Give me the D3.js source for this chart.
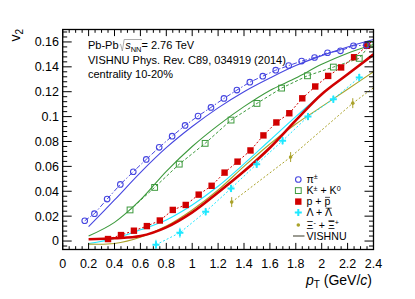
<!DOCTYPE html>
<html>
<head>
<meta charset="utf-8">
<script src="https://cdn.jsdelivr.net/npm/d3@7"></script>
<style>
body{margin:0;background:#fff}
text{font-family:"Liberation Sans",Arial,sans-serif;fill:#000;white-space:pre}
</style>
</head>
<body>
<div id="chart"></div>
<script>
// measured points (pT, v2)
var piPt=[0.17,0.245,0.343,0.445,0.545,0.645,0.745,0.845,0.945,1.045,1.145,1.245,1.345,1.445,1.545,1.645,1.745,1.845,1.945,2.045,2.145,2.245,2.345];
var piV2=[0.0163,0.0220,0.0337,0.0455,0.0557,0.0656,0.0753,0.0843,0.0929,0.1004,0.1074,0.1146,0.1213,0.1277,0.1325,0.1373,0.1410,0.1446,0.1475,0.1513,0.1529,0.1569,0.1574];
var kPt=[0.52,0.71,0.9,1.1,1.3,1.5,1.69,1.89,2.09,2.29,2.375];
var kV2=[0.0250,0.0431,0.0618,0.0785,0.0972,0.1106,0.1229,0.1328,0.1398,0.1468,0.1580];
var pPt=[0.35,0.45,0.55,0.65,0.75,0.85,0.95,1.05,1.15,1.25,1.35,1.45,1.55,1.65,1.75,1.85,1.95,2.05,2.15,2.25,2.35,2.45];
var pV2=[0.0016,0.0048,0.0083,0.0120,0.0165,0.0250,0.0290,0.0373,0.0444,0.0550,0.0638,0.0728,0.0849,0.0953,0.1027,0.1147,0.1242,0.1327,0.1395,0.1477,0.1569,0.1670];
var lamPt=[0.72,0.905,1.104,1.3,1.498,1.698,1.894,2.09,2.29];
var lamV2=[-0.0030,0.0067,0.0236,0.0423,0.0618,0.0806,0.1000,0.1140,0.1315];
var lamErr=[0.004,0.004,0.003,0.003,0.003,0.003,0.003,0.003,0.003];
var xiPt=[1.305,1.76,2.24,2.72];
var xiV2=[0.0313,0.0675,0.1108,0.148];
var xiErr=[0.004,0.004,0.004,0.004];

// VISHNU curves
var modelPt=[0.2,0.4,0.6,0.8,1.0,1.2,1.4,1.6,1.8,2.0,2.2,2.4];
var piModel=[0.0115,0.033,0.055,0.075,0.092,0.107,0.120,0.131,0.141,0.149,0.156,0.162];
var kModel=[0.004,0.015,0.033,0.056,0.076,0.093,0.108,0.121,0.131,0.142,0.151,0.158];
var pModel=[0.0014,0.0022,0.004,0.011,0.023,0.039,0.056,0.075,0.097,0.118,0.134,0.150];
var lamModel=[-0.002,0.002,0.009,0.017,0.029,0.044,0.062,0.081,0.100,0.118,0.134,0.149];
var xiModel=[-0.0025,-0.002,0.003,0.012,0.025,0.041,0.060,0.078,0.094,0.108,0.122,0.136];

var legendNames=["pi","k","p","lam","xi","model"];

var W=415,H=299;
var x=d3.scaleLinear().domain([0,2.4]).range([62.7,373.5]);
var y=d3.scaleLinear().domain([-0.0068,0.17]).range([249.5,29.5]);

var col={pi:"#4646e0",k:"#3d9a3d",p:"#d10000",lam:"#1ee8ff",xi:"#aaa22a"};

var svg=d3.select("#chart").append("svg").attr("width",W).attr("height",H);

svg.append("clipPath").attr("id","clip").append("rect")
    .attr("x",x(0)).attr("y",y(0.17)).attr("width",x(2.4)-x(0)).attr("height",y(-0.0068)-y(0.17));

var plot=svg.append("g").attr("clip-path","url(#clip)");

function zip(a,b){return a.map((v,i)=>[v,b[i]]);}

var smooth=d3.line().x(d=>x(d[0])).y(d=>y(d[1])).curve(d3.curveCatmullRom);
var straight=d3.line().x(d=>x(d[0])).y(d=>y(d[1]));

// model curves
[["k",kModel,1.1],["pi",piModel,1.1],["lam",lamModel,1.1],["xi",xiModel,1.1],["p",pModel,2.6]].forEach(m=>{
    plot.append("path").attr("d",smooth(zip(modelPt,m[1])))
        .attr("fill","none").attr("stroke",col[m[0]]).attr("stroke-width",m[2]);
});

// data connecting lines
[["pi",piPt,piV2,"5,2,1.5,2"],["k",kPt,kV2,"3,2"],["p",pPt,pV2,"2,2"],["lam",lamPt,lamV2,"2,2"],["xi",xiPt,xiV2,"2,2"]].forEach(s=>{
    plot.append("path").attr("d",straight(zip(s[1],s[2])))
        .attr("fill","none").attr("stroke",col[s[0]]).attr("stroke-width",1).attr("stroke-dasharray",s[3]);
});

// error bars
function errs(pts,vals,e,c){
    plot.selectAll(null).data(zip(pts,vals).map((d,i)=>[d[0],d[1],e[i]])).enter().append("line")
        .attr("x1",d=>x(d[0])).attr("x2",d=>x(d[0]))
        .attr("y1",d=>y(d[1]-d[2])).attr("y2",d=>y(d[1]+d[2]))
        .attr("stroke",c).attr("stroke-width",1);
}
errs(lamPt,lamV2,lamErr,col.lam);
errs(xiPt,xiV2,xiErr,col.xi);

function marker(g,type,cx,cy){
    if(type=="pi") g.append("circle").attr("cx",cx).attr("cy",cy).attr("r",2.8)
        .attr("fill","none").attr("stroke",col.pi).attr("stroke-width",1.1);
    if(type=="k") g.append("rect").attr("x",cx-2.9).attr("y",cy-2.9).attr("width",5.8).attr("height",5.8)
        .attr("fill","none").attr("stroke",col.k).attr("stroke-width",1);
    if(type=="p") g.append("rect").attr("x",cx-3.2).attr("y",cy-3.2).attr("width",6.4).attr("height",6.4)
        .attr("fill",col.p);
    if(type=="lam") g.append("path")
        .attr("d","M"+(cx-1)+","+(cy-3.5)+"h2v2.5h2.5v2h-2.5v2.5h-2v-2.5h-2.5v-2h2.5z")
        .attr("fill",col.lam);
    if(type=="xi") g.append("circle").attr("cx",cx).attr("cy",cy).attr("r",1.8).attr("fill",col.xi);
}
[["p",pPt,pV2],["lam",lamPt,lamV2],["xi",xiPt,xiV2],["k",kPt,kV2],["pi",piPt,piV2]].forEach(s=>{
    s[1].forEach((v,i)=>marker(plot,s[0],x(v),y(s[2][i])));
});

// frame + ticks
var ax=svg.append("g").attr("stroke","#000");
d3.range(0,2.4001,0.05).forEach((t,i)=>{
    var len=(i%4==0)?6.6:3.3;
    ax.append("line").attr("x1",x(t)).attr("x2",x(t)).attr("y1",y.range()[0]).attr("y2",y.range()[0]-len).attr("stroke-width",1);
    ax.append("line").attr("x1",x(t)).attr("x2",x(t)).attr("y1",y.range()[1]).attr("y2",y.range()[1]+len).attr("stroke-width",1);
});
d3.range(-0.004,0.1701,0.004).forEach(t=>{
    var maj=Math.abs(Math.round(t/0.004))%5==0;
    var len=maj?9:4.5;
    ax.append("line").attr("x1",x(0)).attr("x2",x(0)+len).attr("y1",y(t)).attr("y2",y(t)).attr("stroke-width",1);
    ax.append("line").attr("x1",x(2.4)).attr("x2",x(2.4)-len).attr("y1",y(t)).attr("y2",y(t)).attr("stroke-width",1);
});
svg.append("rect").attr("x",x(0)).attr("y",y(0.17)).attr("width",x(2.4)-x(0)).attr("height",y(-0.0068)-y(0.17))
    .attr("fill","none").attr("stroke","#000").attr("stroke-width",1.3);

// tick labels
var xTicks=d3.range(0,2.4001,0.2);
svg.selectAll(".xl").data(xTicks).enter().append("text")
    .attr("x",d=>x(d)).attr("y",267.5).attr("text-anchor","middle").attr("font-size",12.5)
    .text(d=>d3.format("~g")(+d.toFixed(1)));
var yTicks=d3.range(0,0.1601,0.02);
svg.selectAll(".yl").data(yTicks).enter().append("text")
    .attr("x",59).attr("y",d=>y(d)+4.4).attr("text-anchor","end").attr("font-size",12.5)
    .text(d=>d3.format("~g")(+d.toFixed(2)));

// rich text helper
function rich(g,x0,yb,runs,size){
    var cx=x0;
    runs.forEach(r=>{
        var fs=(r.sub||r.sup)?size*0.68:size;
        var dy=r.sub?size*0.3:(r.sup?-size*0.36:0);
        var t=g.append("text").attr("x",cx).attr("y",yb+dy).attr("font-size",fs).text(r.t);
        if(r.it) t.attr("font-style","italic");
        var w=t.node().getComputedTextLength();
        if(r.bar) g.append("line").attr("x1",cx+0.6).attr("x2",cx+w-0.4)
            .attr("y1",yb+dy-fs*0.76).attr("y2",yb+dy-fs*0.76).attr("stroke","#000").attr("stroke-width",0.7);
        r.x0=cx; r.x1=cx+w;
        cx+=w+(r.gap||0);
    });
    return cx;
}

// header
var hd=svg.append("g");
var r1=[{t:"Pb-Pb ",gap:3.5},{t:"s",it:1},{t:"NN",sub:1},{t:"= 2.76 TeV"}];
rich(hd,88,49,r1,11);
var sx=r1[1].x0, ex=r1[2].x1;
hd.append("path").attr("d","M"+(sx-5.5)+",45 L"+(sx-4.5)+",44.3 L"+(sx-2.8)+",51 L"+(sx-1)+",39.5 L"+(ex+0.5)+",39.5")
    .attr("fill","none").attr("stroke","#999").attr("stroke-width",0.8);
rich(hd,88,63.8,[{t:"VISHNU Phys. Rev. C89, 034919 (2014)"}],11);
rich(hd,88,78,[{t:"centrality 10-20%"}],11);

// legend
var lg=svg.append("g");
var legRows=[
    [{t:"\u03c0"},{t:"\u00b1",sup:1}],
    [{t:"K"},{t:"\u00b1",sup:1},{t:" + K"},{t:"0",sup:1}],
    [{t:"p + "},{t:"p",bar:1}],
    [{t:"\u039b + "},{t:"\u039b",bar:1}],
    [{t:"\u039e"},{t:"-",sup:1},{t:" + "},{t:"\u039e",bar:1},{t:"+",sup:1}],
    [{t:"VISHNU"}]
];
var legY=[179.5,190.6,201.6,212.4,225,236];
legendNames.forEach((n,i)=>{
    if(n=="model") lg.append("line").attr("x1",293).attr("x2",304.5).attr("y1",legY[i]).attr("y2",legY[i])
        .attr("stroke","#4a4a3a").attr("stroke-width",1.1);
    else marker(lg,n,298.3,legY[i]);
    rich(lg,306.5,legY[i]+3.8,legRows[i],10.6);
});

// axis titles
var xt=svg.append("text").attr("x",372).attr("y",285).attr("text-anchor","end").attr("font-size",14);
xt.append("tspan").attr("font-style","italic").text("p");
xt.append("tspan").attr("font-size",10).attr("dy",3).text("T");
xt.append("tspan").attr("dy",-3).text(" (GeV/");
xt.append("tspan").attr("font-style","italic").text("c");
xt.append("tspan").text(")");

var yt=svg.append("text").attr("transform","translate(20,29) rotate(-90)").attr("text-anchor","end").attr("font-size",14);
yt.append("tspan").text("v");
yt.append("tspan").attr("font-size",10).attr("dy",3).text("2");
</script>
</body>
</html>
